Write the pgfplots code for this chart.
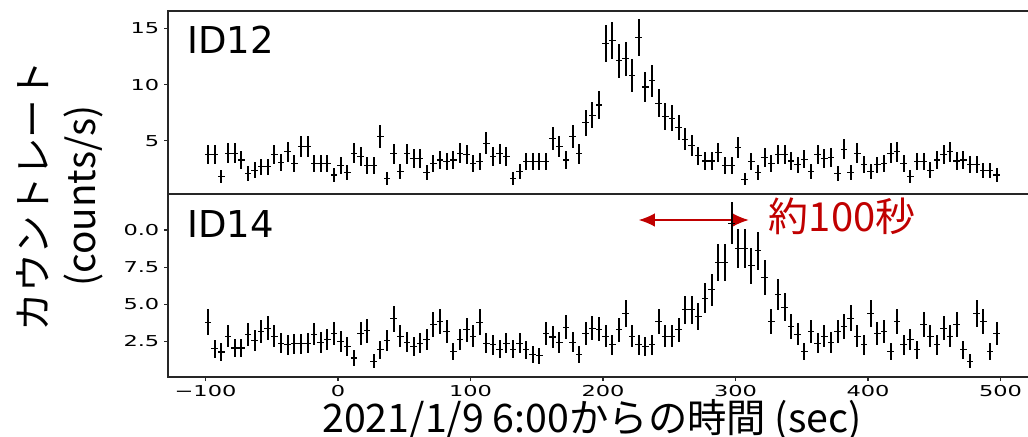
\documentclass[border=0pt]{standalone}
\usepackage{pgfplots}
\pgfplotsset{compat=1.18}
\usepackage{pgfplotstable}
\usepackage{graphicx}
\usepackage{fontspec}
\setmainfont{DejaVu Sans}
\newfontfamily\jp{Noto Sans CJK JP}
\usetikzlibrary{arrows.meta}
\definecolor{myred}{RGB}{192,0,0}
\newcommand\tl[1]{\scalebox{1.5}[1]{#1}}

\pgfplotstableread{
x y e
-98 3.75 0.85
-93 3.75 0.85
-88 1.81 0.59
-83 3.9 0.87
-78 3.9 0.87
-73 3.3 0.80
-68 2.1 0.64
-63 2.4 0.68
-58 2.7 0.72
-53 2.7 0.72
-48 3.75 0.85
-43 3.1 0.77
-38 4.05 0.89
-33 3.0 0.76
-28 4.5 0.93
-23 4.5 0.93
-18 3.0 0.76
-13 3.0 0.76
-8 3.0 0.76
-3 1.96 0.62
2 2.8 0.74
7 2.17 0.65
12 3.9 0.87
17 3.6 0.83
22 2.8 0.74
27 2.8 0.74
32 5.4 1.02
37 1.67 0.57
42 3.84 0.86
47 2.26 0.66
52 3.84 0.86
57 3.45 0.82
62 3.45 0.82
67 2.2 0.65
72 3.0 0.76
77 3.3 0.80
82 3.15 0.78
87 3.3 0.80
92 3.9 0.87
97 3.75 0.85
102 3.0 0.76
107 3.15 0.78
112 4.8 0.96
117 3.6 0.83
122 3.84 0.86
127 3.6 0.83
132 1.67 0.57
137 2.26 0.66
142 3.15 0.78
147 3.15 0.78
152 3.15 0.78
157 3.15 0.78
162 5.24 1.01
167 4.5 0.93
172 3.3 0.80
177 5.4 1.02
182 3.84 0.86
187 6.6 1.13
192 7.3 1.19
197 8.2 1.26
202 13.7 1.63
207 13.96 1.64
212 12.14 1.53
217 12.3 1.54
222 10.8 1.45
227 14.2 1.66
232 9.8 1.38
237 10.36 1.42
242 8.37 1.27
247 7.17 1.18
252 7.03 1.17
257 6.19 1.09
262 5.15 1.00
267 4.58 0.94
272 3.66 0.84
277 3.21 0.79
282 3.21 0.79
287 3.96 0.88
292 2.8 0.74
297 2.8 0.74
302 4.4 0.92
307 1.58 0.55
312 3.15 0.78
317 2.17 0.65
322 3.51 0.82
327 3.0 0.76
332 3.75 0.85
337 3.75 0.85
342 3.21 0.79
347 2.86 0.74
352 3.37 0.81
357 2.26 0.66
362 3.81 0.86
367 3.45 0.82
372 3.51 0.82
377 2.1 0.64
382 4.26 0.91
387 2.17 0.65
392 3.9 0.87
397 2.92 0.75
402 2.26 0.66
407 2.86 0.74
412 3.0 0.76
417 3.9 0.87
422 4.05 0.89
427 3.0 0.76
432 1.81 0.59
437 3.15 0.78
442 3.15 0.78
447 2.4 0.68
452 3.3 0.80
457 3.75 0.85
462 4.05 0.89
467 3.21 0.79
472 3.3 0.80
477 2.92 0.75
482 2.92 0.75
487 2.35 0.67
492 2.35 0.67
497 1.96 0.62
}\topdata

\pgfplotstableread{
x y e
-98 3.80 0.86
-93 2.01 0.62
-88 1.79 0.59
-83 2.84 0.74
-78 2.06 0.63
-73 2.06 0.63
-68 2.95 0.76
-63 2.55 0.70
-58 3.17 0.78
-53 3.4 0.81
-48 2.84 0.74
-43 2.39 0.68
-38 2.28 0.66
-33 2.35 0.67
-28 2.35 0.67
-23 2.39 0.68
-18 3.0 0.76
-13 2.43 0.69
-8 2.61 0.71
-3 3.06 0.77
2 2.5 0.70
7 2.16 0.65
12 1.39 0.52
17 3.02 0.76
22 3.22 0.79
27 1.16 0.47
32 1.94 0.61
37 2.57 0.71
42 4.02 0.88
47 2.84 0.74
52 2.46 0.69
57 2.16 0.65
62 2.39 0.68
67 2.61 0.71
72 3.62 0.84
77 3.84 0.86
82 3.17 0.78
87 1.83 0.60
92 2.61 0.71
97 3.28 0.80
102 2.84 0.74
107 3.8 0.86
112 2.39 0.68
117 2.28 0.66
122 1.99 0.62
127 2.39 0.68
132 1.99 0.62
137 2.39 0.68
142 1.94 0.61
147 1.65 0.57
152 1.54 0.55
157 3.02 0.76
162 2.8 0.74
167 2.43 0.69
172 3.47 0.82
177 2.46 0.69
182 1.61 0.56
187 3.02 0.76
192 3.4 0.81
197 3.33 0.80
202 2.84 0.74
207 2.28 0.66
212 3.28 0.80
217 4.4 0.92
222 2.84 0.74
227 2.28 0.66
232 2.16 0.65
237 2.28 0.66
242 3.84 0.86
247 2.84 0.74
252 2.84 0.74
257 3.28 0.80
262 4.63 0.95
267 4.63 0.95
272 4.18 0.90
277 5.41 1.02
282 5.97 1.07
287 7.8 1.23
292 7.8 1.23
297 10.45 1.42
302 8.77 1.30
307 8.77 1.30
312 7.58 1.21
317 8.59 1.29
322 6.8 1.15
327 3.84 0.86
332 5.63 1.04
337 4.81 0.96
342 3.51 0.82
347 3.0 0.76
352 1.83 0.60
357 3.17 0.78
362 2.39 0.68
367 2.84 0.74
372 2.43 0.69
377 3.17 0.78
382 3.51 0.82
387 4.07 0.89
392 2.84 0.74
397 2.28 0.66
402 4.4 0.92
407 3.06 0.77
412 3.17 0.78
417 1.83 0.60
422 3.84 0.86
427 2.28 0.66
432 2.61 0.71
437 1.94 0.61
442 3.62 0.84
447 2.84 0.74
452 2.28 0.66
457 3.4 0.81
462 2.84 0.74
467 3.62 0.84
472 1.94 0.61
477 1.16 0.47
482 4.4 0.92
487 3.84 0.86
492 1.83 0.60
497 3.02 0.76
}\botdata

\pgfplotsset{
  myax/.style={
    scale only axis, width=652pt, height=137.25pt,
    xmin=-128.3, xmax=527.8,
    tick align=outside, tick pos=left,
    axis line style={line width=0.9pt, black!85},
    major tick style={line width=0.9pt, black!85},
    major tick length=3pt,
    ticklabel style={font=\fontsize{11.25}{13}\selectfont},
  },
  yebar/.style={draw=none, mark=none,
    error bars/.cd, y dir=both, y explicit, error mark=none,
    error bar style={draw=black, line width=1.5pt}},
  xebar/.style={draw=none, mark=none,
    error bars/.cd, x dir=both, x fixed=2.5, error mark=none,
    error bar style={draw=black, line width=0.8pt}},
}

\begin{document}
\begin{tikzpicture}
\begin{axis}[myax, at={(126pt,181.5pt)}, anchor=south west,
  ymin=0.27, ymax=16.57, xtick=\empty,
  ytick={5,10,15}, yticklabels={\tl{5},\tl{10},\tl{15}}]
\addplot[yebar] table[x=x,y=y,y error=e] {\topdata};
\addplot[xebar] table[x=x,y=y] {\topdata};
\node[anchor=base west, inner sep=0, font=\fontsize{27.75}{32}\selectfont] at (rel axis cs:0.0219,0.770) {ID12};
\end{axis}
\begin{axis}[myax, at={(126pt,44.25pt)}, anchor=south west,
  ymin=0.11, ymax=12.42,
  ytick={2.5,5,7.5,10}, yticklabels={\tl{2.5},\tl{5.0},\tl{7.5},\tl{0.0}},
  xtick={-100,0,100,200,300,400,500},
  xticklabels={\tl{−100},\tl{0},\tl{100},\tl{200},\tl{300},\tl{400},\tl{500}}]
\draw[color=myred, line width=1pt, {Latex[length=12pt,width=10pt]}-{Latex[length=12pt,width=10pt]}] (axis cs:227,10.67) -- (axis cs:310,10.67);
\addplot[yebar] table[x=x,y=y,y error=e] {\botdata};
\addplot[xebar] table[x=x,y=y] {\botdata};
\node[anchor=base west, inner sep=0, font=\fontsize{27.75}{32}\selectfont] at (rel axis cs:0.0219,0.760) {ID14};
\node[anchor=west, inner sep=0, text=myred, font=\jp\fontsize{30}{36}\selectfont] at (axis cs:325,10.9) {約100秒};
\end{axis}
\node[rotate=90, align=center, font=\jp\fontsize{29}{36}\selectfont] at (45pt,180pt) {カウントレート\\(counts/s)};
\node[anchor=base, inner sep=0, font=\jp\fontsize{29.5}{36}\selectfont] at (444pt,2.3pt) {2021/1/9 6:00からの時間 (sec)};
\pgfresetboundingbox
\useasboundingbox (0,0) rectangle (771pt,327pt);
\end{tikzpicture}
\end{document}
